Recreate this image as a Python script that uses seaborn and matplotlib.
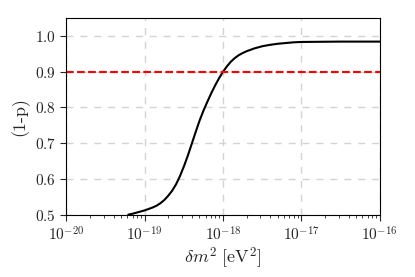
import numpy as np
import pandas as pd
import seaborn as sns
import matplotlib
matplotlib.use("Agg")
import matplotlib.pyplot as plt

# values
log_dm2 = [-19.21, -19.15, -19.10, -19.05, -19.00, -18.95, -18.90, -18.85,
           -18.80, -18.75, -18.70, -18.65, -18.60, -18.55, -18.50, -18.45,
           -18.40, -18.35, -18.30, -18.25, -18.20, -18.15, -18.10, -18.05,
           -18.00, -17.95, -17.90, -17.85, -17.80, -17.75, -17.70, -17.65,
           -17.60, -17.50, -17.40, -17.30, -17.20, -17.10, -17.00, -16.50, -16.00]
one_minus_p = [0.500, 0.503, 0.506, 0.509, 0.512, 0.516, 0.520, 0.525,
               0.532, 0.541, 0.553, 0.567, 0.585, 0.608, 0.635, 0.665,
               0.698, 0.731, 0.763, 0.791, 0.816, 0.840, 0.862, 0.882,
               0.900, 0.915, 0.928, 0.938, 0.946, 0.952, 0.957, 0.961,
               0.965, 0.971, 0.975, 0.978, 0.980, 0.982, 0.983, 0.984, 0.984]
threshold = 0.9

df = pd.DataFrame({"dm2": 10.0 ** np.array(log_dm2), "p": one_minus_p})

sns.set_style("ticks")
plt.rcParams["font.family"] = "serif"
plt.rcParams["font.serif"] = ["cmr10", "DejaVu Serif"]
plt.rcParams["mathtext.fontset"] = "cm"
plt.rcParams["axes.formatter.use_mathtext"] = True
plt.rcParams["axes.unicode_minus"] = False

fig, ax = plt.subplots(figsize=(4.15, 2.77), dpi=100)

sns.lineplot(data=df, x="dm2", y="p", color="black", linewidth=1.5, ax=ax)
ax.axhline(threshold, color="red", linestyle="--", linewidth=1.5)

ax.set_xscale("log")
ax.set_xlim(1e-20, 1e-16)
ax.set_ylim(0.5, 1.05)
ax.set_yticks([0.5, 0.6, 0.7, 0.8, 0.9, 1.0])
ax.set_xticks([1e-20, 1e-19, 1e-18, 1e-17, 1e-16])
ax.grid(True, which="major", linestyle=(0, (5, 5)), color="lightgray", linewidth=1)
ax.tick_params(axis="both", which="major", labelsize=11, length=4)
ax.tick_params(axis="x", which="minor", length=2)

for s in ax.spines.values():
    s.set_visible(True)
    s.set_color("black")

ax.set_xlabel(r"$\delta m^2\ [\mathrm{eV}^2]$", fontsize=13, labelpad=2)
ax.set_ylabel("(1-p)", fontsize=13)

fig.subplots_adjust(left=0.16, right=0.915, top=0.935, bottom=0.225)
fig.savefig("out.png", dpi=100)
